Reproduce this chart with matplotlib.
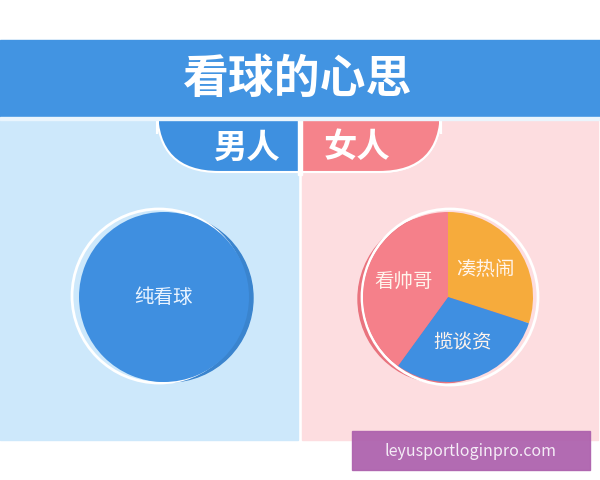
import matplotlib
matplotlib.use("Agg")
import matplotlib.pyplot as plt
from matplotlib.patches import Rectangle, Circle, FancyBboxPatch

plt.rcParams['font.family'] = ['Noto Sans CJK SC', 'DejaVu Sans']

# data
title = "看球的心思"
groups = ["男人", "女人"]
men_labels = ["纯看球"]
men_values = [100]
women_labels = ["凑热闹", "揽谈资", "看帅哥"]
women_values = [30, 30, 40]
women_colors = ["#F6AB3C", "#3F8FE1", "#F5808A"]
watermark = "leyusportloginpro.com"

W, H = 600, 480


def Y(py):
    # picture rows are counted from the top
    return H - py


fig = plt.figure(figsize=(6, 4.8), dpi=100)
ax = fig.add_axes([0, 0, 1, 1])
ax.set_axis_off()

# panels
ax.add_patch(Rectangle((0, Y(440)), 298, 320, color="#CDE8FB", zorder=0))
ax.add_patch(Rectangle((302, Y(440)), 296, 320, color="#FDDDE0", zorder=0))

# tab under the header
tab_l = FancyBboxPatch((157, Y(172)), 284, 100,
                       boxstyle="round,pad=0,rounding_size=62",
                       fc="#3E90E0", ec="white", lw=1.5, zorder=1)
ax.add_patch(tab_l)
tab_r = FancyBboxPatch((157, Y(172)), 284, 100,
                       boxstyle="round,pad=0,rounding_size=62",
                       fc="#F5838B", ec="white", lw=1.5, zorder=1)
ax.add_patch(tab_r)
clip = Rectangle((301, 0), 300, H, transform=ax.transData)
tab_r.set_clip_path(clip)
ax.add_patch(Rectangle((298, Y(175)), 3.5, 60, color="white", zorder=1.5))

# header bar
ax.add_patch(Rectangle((0, Y(117)), W, 77, color="#4294E2", zorder=2))
ax.add_patch(Rectangle((0, Y(120)), W, 3, color="#EAF5FD", zorder=2))
ax.text(298, Y(80), title, ha="center", va="center", fontsize=33,
        fontweight="heavy", color="white", zorder=3)

ax.text(246, Y(148), groups[0], ha="center", va="center", fontsize=24,
        fontweight="heavy", color="white", zorder=3)
ax.text(357, Y(148), groups[1], ha="center", va="center", fontsize=24,
        fontweight="heavy", color="white", zorder=3)

# men: one full slice
ax.add_patch(Circle((169, Y(298)), 84, color="#3A84CE", zorder=2))
ax.add_patch(Circle((159, Y(296)), 87, fc="none", ec="white", lw=2, zorder=2))
ax.pie(men_values, labels=men_labels, colors=["#3F8FE0"], center=(164, Y(297)),
       radius=85, labeldistance=0, startangle=90,
       textprops=dict(fontsize=14, color="#EAF4FF", ha="center", va="center"),
       wedgeprops=dict(zorder=3), frame=True)

# women pie
ax.add_patch(Circle((442, Y(299)), 84, color="#E9737E", zorder=2))
ax.add_patch(Circle((450, Y(297)), 88, fc="none", ec="white", lw=2, zorder=2))
ax.pie(women_values, labels=women_labels, colors=women_colors,
       center=(448, Y(297)), radius=85, labeldistance=0.55, startangle=90,
       counterclock=False,
       textprops=dict(fontsize=14, color="#FFF4EC", ha="center", va="center"),
       wedgeprops=dict(zorder=3), frame=True)

# watermark
ax.add_patch(Rectangle((352, Y(470)), 238, 39, color="#AE63AE", alpha=0.95, zorder=4))
ax.text(471, Y(451), watermark, ha="center", va="center", fontsize=11.5,
        color="#F4ECF6", zorder=5)

ax.set_xlim(0, W)
ax.set_ylim(0, H)
ax.set_aspect("auto")
ax.set_axis_off()

fig.savefig("out.png", dpi=100, facecolor="white")
